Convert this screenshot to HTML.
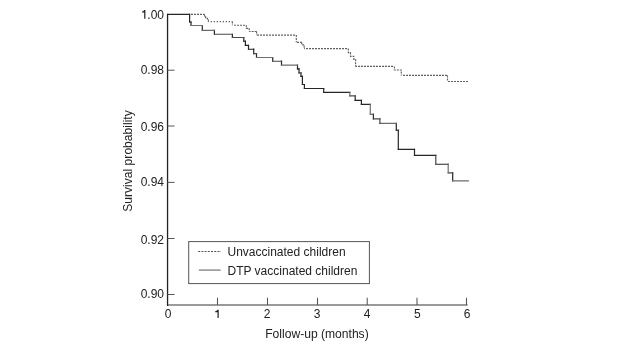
<!DOCTYPE html>
<html><head><meta charset="utf-8">
<style>
html,body{margin:0;padding:0;background:#fff;width:625px;height:347px;overflow:hidden}
svg{position:absolute;left:0;top:0;will-change:transform}
text{font-family:"Liberation Sans",sans-serif;font-size:12px;fill:#222}
</style></head><body>
<svg width="625" height="347" viewBox="0 0 625 347">
<g fill="none" stroke-linejoin="miter" stroke-linecap="butt">
<!-- axes -->
<path d="M167,304.95 H467.6" stroke="#9a9a9a" stroke-width="1.9"/>
<path d="M167.55,13.8 V305.9" stroke="#222" stroke-width="1.3"/>
<!-- y ticks -->
<path d="M167.5,70.2 H174.5 M167.5,126.0 H174.5 M167.5,182.4 H174.5 M167.5,238.5 H174.5 M167.5,294.5 H174.5" stroke="#555" stroke-width="1"/>
<!-- x ticks -->
<path d="M217.5,305 V297.8 M267.5,305 V297.8 M317.5,305 V297.8 M367.2,305 V297.8 M417,305 V297.8 M466.5,305 V297.8" stroke="#555" stroke-width="1.05"/>
<!-- DTP vaccinated (solid) -->
<path d="M167.6,14.4H189.6 M189.6,22H191 M243.8,41.2H245.4 M245.4,45.3H248.5 M248.5,49.2H253.7 M297.5,68.8H299 M301,76.3H302.4 M302.4,84.5H304.4 M304.4,88.5H323.7 M323.7,92.35H349.8 M355.2,100.3H361.4 M361.4,104.4H370.3 M396.3,130.2H398.3 M398.3,149.3H414.5 M414.5,155.4H435.8 M435.8,164.2H448.2" stroke="#262626" stroke-width="1.15" stroke-linecap="square"/>
<path d="M189.6,14.4V22 M191,22V25.5 M202.3,25.5V30.4 M214.4,30.4V34.25 M232.4,34.25V37.5 M243.8,37.5V41.2 M245.4,41.2V45.3 M248.5,45.3V49.2 M253.7,49.2V53.6 M256.5,53.6V57.5 M272.7,57.5V61.2 M281.5,61.2V65.1 M297.5,65.1V68.8 M299,68.8V72.9 M301,72.9V76.3 M302.4,76.3V84.5 M304.4,84.5V88.5 M323.7,88.5V92.35 M355.2,95.9V100.3 M361.4,100.3V104.4 M373.4,114.2V118.8 M396.3,123.4V130.2 M398.3,130.2V149.3 M414.5,149.3V155.4 M452.7,172.8V180.9" stroke="#262626" stroke-width="1.2" stroke-linecap="square"/>
<path d="M191,25.5H202.3 M202.3,30.4H214.4 M256.5,57.5H272.7 M281.5,65.1H297.5 M379.9,123.4H396.3 M452.7,180.9H468.5" stroke="#6e6e6e" stroke-width="1.15" stroke-linecap="square"/>
<path d="M214.4,34.25H232.4 M232.4,37.5H243.8 M253.7,53.6H256.5 M272.7,61.2H281.5 M299,72.9H301 M349.8,95.9H355.2 M370.3,114.2H373.4 M373.4,118.8H379.9 M448.2,172.8H452.7" stroke="#4a4a4a" stroke-width="1.15" stroke-linecap="square"/>
<path d="M349.8,92.35V95.9 M370.3,104.4V114.2 M448.2,164.2V172.8" stroke="#6e6e6e" stroke-width="1.2" stroke-linecap="square"/>
<path d="M379.9,118.8V123.4 M435.8,155.4V164.2" stroke="#4a4a4a" stroke-width="1.2" stroke-linecap="square"/>
<!-- Unvaccinated (dotted) -->
<path d="M191.0,14.4H193.0 M194.0,14.4H196.0 M197.0,14.4H199.0 M200.0,14.4H202.0 M203.0,14.4H204.5 M208.4,21.6H209.0 M210.7,21.6H212.0 M213.7,21.6H215.0 M216.7,21.6H218.0 M219.7,21.6H221.0 M222.7,21.6H224.0 M225.7,21.6H227.0 M228.7,21.6H230.0 M231.7,21.6H232.4 M234.0,25.2H236.0 M237.0,25.2H239.0 M240.0,25.2H242.0 M243.0,25.2H245.0 M249.2,31.5H250.6 M251.6,31.5H253.6 M254.6,31.5H256.6 M257.0,35.1H259.0 M260.0,35.1H262.0 M263.0,35.1H265.0 M266.0,35.1H268.0 M269.0,35.1H271.0 M272.0,35.1H274.0 M275.0,35.1H277.0 M278.0,35.1H280.0 M281.0,35.1H283.0 M284.0,35.1H286.0 M287.0,35.1H289.0 M290.0,35.1H292.0 M293.0,35.1H295.0 M297.0,42.3H299.0 M300.0,42.3H301.7 M304.2,48.6H305.0 M306.0,48.6H308.0 M309.0,48.6H311.0 M312.0,48.6H314.0 M315.0,48.6H317.0 M318.0,48.6H320.0 M321.0,48.6H323.0 M324.0,48.6H326.0 M327.0,48.6H329.0 M330.0,48.6H332.0 M333.0,48.6H335.0 M336.0,48.6H338.0 M339.0,48.6H341.0 M342.0,48.6H344.0 M345.0,48.6H347.0 M355.6,66.4H357.0 M358.0,66.4H360.0 M361.0,66.4H363.0 M364.0,66.4H366.0 M367.0,66.4H369.0 M370.0,66.4H372.0 M373.0,66.4H375.0 M376.0,66.4H378.0 M379.0,66.4H381.0 M382.0,66.4H384.0 M385.0,66.4H387.0 M388.0,66.4H390.0 M391.0,66.4H393.0 M403.0,75.4H405.0 M406.0,75.4H408.0 M409.0,75.4H411.0 M412.0,75.4H414.0 M415.0,75.4H417.0 M418.0,75.4H420.0 M421.0,75.4H423.0 M424.0,75.4H426.0 M427.0,75.4H429.0 M430.0,75.4H432.0 M433.0,75.4H435.0 M436.0,75.4H438.0 M439.0,75.4H441.0 M442.0,75.4H444.0 M445.0,75.4H447.0 M448.0,81.5H450.0 M451.0,81.5H453.0 M454.0,81.5H456.0 M457.0,81.5H459.0 M460.0,81.5H462.0 M463.0,81.5H465.0 M466.0,81.5H468.0" stroke="#606060" stroke-width="1.15"/>
<path d="M204.5,14.4 V16.5 H205.6 V18.3 H207.4 V19.5 H208.4 V21.6 M232.4,21.6 V25.2 M246.3,25.2 V28.3 H249.2 V31.5 M256.6,31.5 V35.1 M296.3,35.1 V42.3 M301.7,42.3 V44.8 H304.2 V48.6 M348.3,48.6 V52.6 H350.5 V56.3 H353.8 V59.3 H355.6 V66.4 M394.4,66.4 V70 H401.3 V75.4 M447.5,75.4 V81.5" stroke="#606060" stroke-width="1.15" stroke-dasharray="2 1"/>
<!-- legend -->
<rect x="188.7" y="241.6" width="180.7" height="42" stroke="#555" stroke-width="1"/>
<path d="M198.2,251.5 H221" stroke="#555" stroke-width="1.1" stroke-dasharray="2 1.2"/>
<path d="M198.8,270.1 H220.7" stroke="#888" stroke-width="1.4"/>
</g>
<!-- y labels -->
<g text-anchor="end">
<text x="164" y="19">.00</text>
<text x="164" y="74">0.98</text>
<text x="164" y="131">0.96</text>
<text x="164" y="186">0.94</text>
<text x="164" y="244">0.92</text>
<text x="164" y="298">0.90</text>
</g>
<g text-anchor="middle">
<text x="168.1" y="318">0</text>
<text x="267" y="318">2</text>
<text x="317.1" y="318">3</text>
<text x="367.1" y="318">4</text>
<text x="417.4" y="318">5</text>
<text x="467.2" y="318">6</text>
</g>
<path d="M217.5,318 V312.2 H215.2 V311.3 Q216.9,311.2 217.5,309.8 H218.7 V318 Z M144.2,18.8 V12.5 H142.0 V11.6 Q143.6,11.5 144.2,10 H145.4 V18.8 Z" fill="#222"/>
<text x="265.2" y="338" style="font-size:12.1px">Follow-up (months)</text>
<text transform="translate(132,161) rotate(-90)" text-anchor="middle" style="font-size:12.1px">Survival probability</text>
<text x="227.5" y="256">Unvaccinated children</text>
<text x="227.5" y="275">DTP vaccinated children</text>
</svg>
</body></html>
